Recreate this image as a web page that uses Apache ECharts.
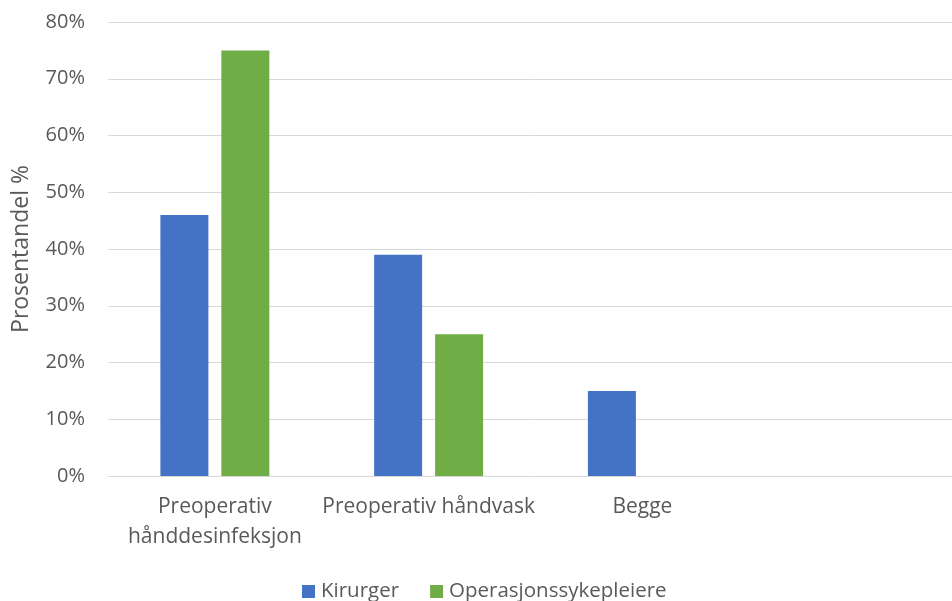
<!DOCTYPE html>
<html>
<head>
<meta charset="utf-8">
<script src="https://cdn.jsdelivr.net/npm/echarts@6/dist/echarts.min.js"></script>
<style>
  html, body { margin: 0; padding: 0; background: #fff; }
  #chart { width: 952px; height: 601px; }
</style>
</head>
<body>
<div id="chart"></div>
<script>
// Categories (the last slot is left empty, as in the original layout)
const categories = ['Preoperativ\nhånddesinfeksjon', 'Preoperativ håndvask', 'Begge', ''];
// Share of respondents, in percent
const kirurger = [46, 39, 15, null];
const operasjonssykepleiere = [75, 25, 0, null];
const yTicks = { min: 0, max: 80, interval: 10 };

const textColor = '#595959';
const fontFamily = '"Open Sans", Lato, "Liberation Sans", sans-serif';

const chart = echarts.init(document.getElementById('chart'), null, { renderer: 'canvas' });
chart.setOption({
  animation: false,
  textStyle: { fontFamily: fontFamily, color: textColor },
  grid: {
    left: 108, top: 22, bottom: 125, right: -11,
    containLabel: false,
    outerBoundsMode: 'none'
  },
  legend: {
    top: 581,
    left: 302,
    padding: 0,
    itemWidth: 13,
    itemHeight: 13,
    itemGap: 31,
    icon: 'rect',
    textStyle: { fontSize: 20.5, color: textColor, fontFamily: fontFamily, padding: [0, 0, 0, 1] },
    data: ['Kirurger', 'Operasjonssykepleiere']
  },
  xAxis: {
    type: 'category',
    data: categories,
    axisLine: { show: true, lineStyle: { color: '#D9D9D9', width: 1 } },
    axisTick: { show: false },
    axisLabel: {
      interval: 0,
      margin: 16,
      fontSize: 21,
      color: textColor,
      lineHeight: 30,
      fontFamily: fontFamily
    }
  },
  yAxis: {
    type: 'value',
    min: yTicks.min,
    max: yTicks.max,
    interval: yTicks.interval,
    name: 'Prosentandel %',
    nameLocation: 'middle',
    nameGap: 75,
    nameRotate: 90,
    nameTextStyle: { fontSize: 23, color: textColor, fontFamily: fontFamily },
    axisLine: { show: false },
    axisTick: { show: false },
    splitLine: { lineStyle: { color: '#D9D9D9', width: 1 } },
    axisLabel: {
      formatter: '{value}%',
      fontSize: 20,
      margin: 23,
      color: textColor,
      fontFamily: fontFamily
    }
  },
  series: [
    {
      name: 'Kirurger',
      type: 'bar',
      data: kirurger,
      barWidth: 48,
      barGap: '27%',
      itemStyle: { color: '#4472C4' }
    },
    {
      name: 'Operasjonssykepleiere',
      type: 'bar',
      data: operasjonssykepleiere,
      barWidth: 48,
      itemStyle: { color: '#70AD47' }
    }
  ]
});
</script>
</body>
</html>
